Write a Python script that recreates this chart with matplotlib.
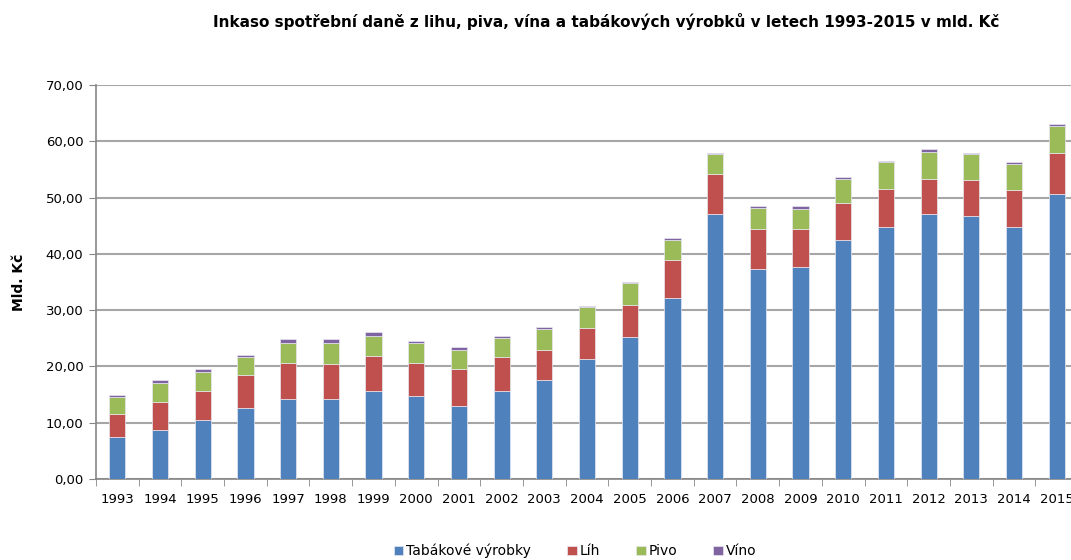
import numpy as np
import matplotlib.pyplot as plt
from matplotlib.ticker import FuncFormatter

# Data (mld. Kč)
years = [str(y) for y in range(1993, 2016)]
tabak = [7.5, 8.7, 10.5, 12.7, 14.2, 14.2, 15.6, 14.7, 13.0, 15.6, 17.6, 21.3,
         25.3, 32.2, 47.1, 37.3, 37.6, 42.5, 44.8, 47.1, 46.8, 44.8, 50.7]
lih = [4.0, 4.9, 5.1, 5.7, 6.5, 6.2, 6.3, 6.0, 6.6, 6.0, 5.4, 5.5,
       5.7, 6.8, 7.1, 7.2, 6.9, 6.6, 6.8, 6.2, 6.3, 6.6, 7.3]
pivo = [3.0, 3.4, 3.4, 3.2, 3.4, 3.7, 3.6, 3.5, 3.4, 3.4, 3.7, 3.7,
        3.8, 3.5, 3.5, 3.7, 3.5, 4.2, 4.7, 4.9, 4.6, 4.6, 4.8]
vino = [0.5, 0.6, 0.5, 0.5, 0.7, 0.7, 0.7, 0.3, 0.4, 0.4, 0.4, 0.3,
        0.3, 0.3, 0.3, 0.3, 0.5, 0.4, 0.3, 0.4, 0.3, 0.3, 0.3]

series = [("Tabákové výrobky", tabak, "#4F81BD"),
          ("Líh", lih, "#C0504D"),
          ("Pivo", pivo, "#9BBB59"),
          ("Víno", vino, "#8064A2")]

plt.rcParams['font.family'] = ['DejaVu Sans']

fig = plt.figure(figsize=(10.71, 5.6), dpi=100)
# the chart is cropped on the right in the reference, so the axes run past the figure edge
ax = fig.add_axes([0.0896, 0.1446, 0.917, 0.7034])

x = np.arange(len(years))
bottom = np.zeros(len(years))
handles = []
for name, vals, col in series:
    vals = np.array(vals)
    b = ax.bar(x, vals, width=0.38, bottom=bottom, color=col,
               edgecolor='#E8E8F0', linewidth=0.5, label=name, zorder=3)
    handles.append(b)
    bottom += vals

ax.set_ylim(0, 70)
ax.set_yticks(np.arange(0, 71, 10))
ax.yaxis.set_major_formatter(FuncFormatter(lambda v, p: f"{v:.2f}".replace('.', ',')))
ax.set_xlim(-0.5, len(years) - 0.5)
ax.set_xticks(x)
ax.set_xticklabels(years)
ax.set_xticks(np.arange(-0.5, len(years), 1), minor=True)
ax.tick_params(axis='x', which='major', length=0, pad=10, labelsize=9.5)
ax.tick_params(axis='x', which='minor', length=5, color='#868686', direction='out')
ax.tick_params(axis='y', length=5, color='#868686', labelsize=9.5, pad=4)

ax.grid(axis='y', color='#A6A6A6', linewidth=1.5, zorder=0)
ax.set_axisbelow(True)
for s in ['top', 'right']:
    ax.spines[s].set_visible(False)
for s in ['left', 'bottom']:
    ax.spines[s].set_color('#868686')
    ax.spines[s].set_linewidth(1.2)

ax.set_ylabel("Mld. Kč", fontsize=10, fontweight='bold', labelpad=14)

fig.text(0.566, 0.962, "Inkaso spotřební daně z lihu, piva, vína a tabákových výrobků v letech 1993-2015 v mld. Kč",
         ha='center', va='center', fontsize=11, fontweight='bold',
         family=['Liberation Sans Narrow', 'DejaVu Sans'])

fig.legend(handles=handles, loc='center', bbox_to_anchor=(0.537, 0.016), ncol=4,
           frameon=False, fontsize=10, handlelength=0.7, handleheight=0.7,
           handletextpad=0.2, columnspacing=2.6)

fig.savefig("out.png", dpi=100)
